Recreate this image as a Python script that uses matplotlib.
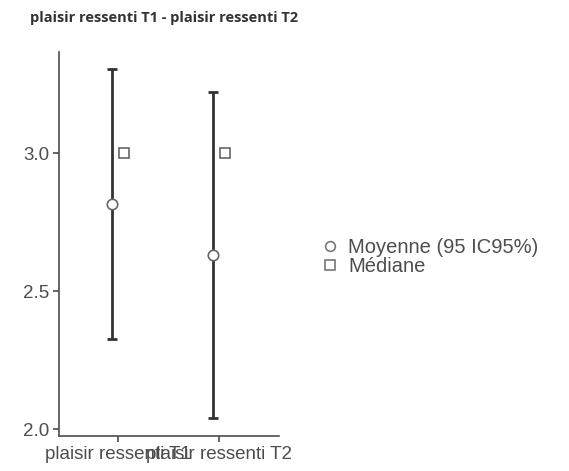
import matplotlib
matplotlib.use('Agg')
import matplotlib.pyplot as plt
from matplotlib.lines import Line2D

# values
groups = ['plaisir ressenti T1', 'plaisir ressenti T2']
means = [2.815, 2.630]
ci_low = [2.325, 2.040]
ci_high = [3.305, 3.222]
medians = [3.0, 3.0]
yticks = [2.0, 2.5, 3.0]

plt.rcParams['font.family'] = ['Liberation Sans', 'DejaVu Sans']

fig = plt.figure(figsize=(5.69, 4.71), dpi=100)
ax = fig.add_axes([0.1037, 0.0743, 0.3866, 0.8153])

grey = '#4d4d4d'
dark = '#333333'
xs = [1, 2]
dodge = 0.055

for i, x in enumerate(xs):
    ax.errorbar(x - dodge, means[i],
                yerr=[[means[i] - ci_low[i]], [ci_high[i] - means[i]]],
                fmt='none', ecolor=dark, elinewidth=2, capsize=3.8, capthick=2, zorder=2)
ax.plot([x - dodge for x in xs], means, 'o', ms=7.5, mfc='white', mec='#666666', mew=1.2,
        ls='none', zorder=3)
ax.plot([x + dodge for x in xs], medians, 's', ms=7, mfc='white', mec='#666666', mew=1.2,
        ls='none', zorder=3)

ax.set_xlim(0.416, 2.594)
ax.set_ylim(1.975, 3.366)
ax.set_xticks(xs)
ax.set_xticklabels(groups)
ax.set_yticks(yticks)
ax.set_yticklabels(['%.1f' % v for v in yticks])

for s in ['top', 'right']:
    ax.spines[s].set_visible(False)
for s in ['left', 'bottom']:
    ax.spines[s].set_color(grey)
    ax.spines[s].set_linewidth(1.2)
ax.tick_params(colors=grey, labelcolor=grey, labelsize=13.5, length=4, width=1.2, pad=3)

fig.text(0.053, 0.977, 'plaisir ressenti T1 - plaisir ressenti T2', fontsize=10.5,
         fontweight='bold', color='#333333', family=['Open Sans', 'DejaVu Sans'], va='top')

handles = [
    Line2D([], [], marker='o', ls='none', ms=7, mfc='white', mec='#777777', mew=1.2),
    Line2D([], [], marker='s', ls='none', ms=6.5, mfc='white', mec='#777777', mew=1.2),
]
fig.legend(handles, ['Moyenne (95 IC95%)', 'Médiane'], loc='center left',
           bbox_to_anchor=(0.548, 0.455), frameon=False, fontsize=14.5,
           labelcolor=grey, handletextpad=0.4, handlelength=1.0, labelspacing=0.0,
           borderaxespad=0)

fig.savefig('out.png', dpi=100)
